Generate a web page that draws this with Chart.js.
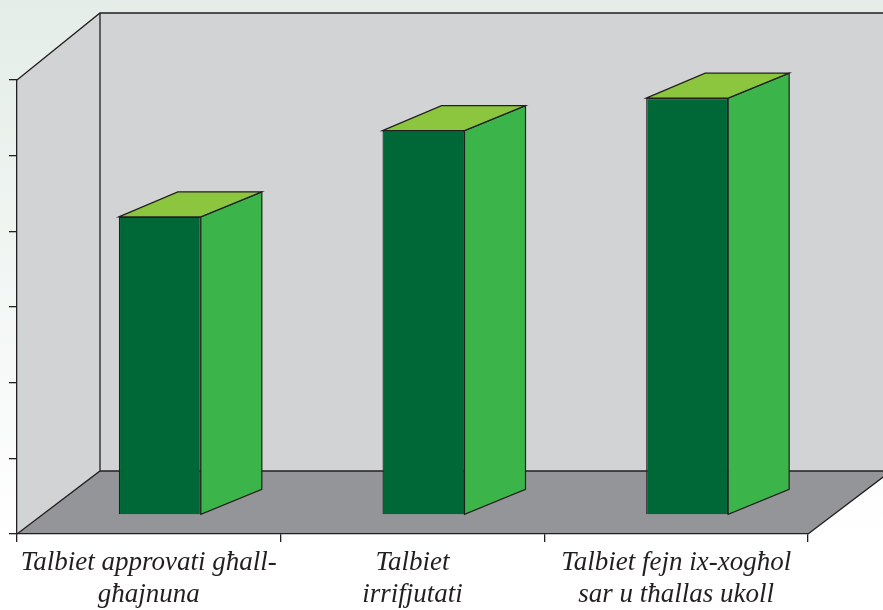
<!DOCTYPE html>
<html>
<head>
<meta charset="utf-8">
<script src="https://cdn.jsdelivr.net/npm/chart.js@4/dist/chart.umd.min.js"></script>
<style>
  html, body { margin: 0; padding: 0; background: #fff; }
  #wrap { width: 883px; height: 610px; }
</style>
</head>
<body>
<div id="wrap"><canvas id="applicationsChart" width="883" height="610"></canvas></div>
<script>
// data
const categories = [
  ['Talbiet approvati għall-', 'għajnuna'],
  ['Talbiet', 'irrifjutati'],
  ['Talbiet fejn ix-xogħol', 'sar u tħallas ukoll']
];
const applications = [394, 508, 551];
const yTicks = { min: 0, max: 600, step: 100 };

const LINE = '#231f20';
// depth of the box (back wall relative to front plane)
const wallDepth = { dx: 83, dyTop: -67, dyBottom: -63 };
// bars sit in the middle of the floor
const barShift = { dx: 11, dy: -19 };
const barDepth = { dx: 61, dy: -25 };

const box3d = {
  id: 'box3d',
  beforeDraw(chart) {
    const { ctx, chartArea: a, width, height } = chart;
    ctx.save();
    const bg = ctx.createLinearGradient(0, 0, 0, height);
    bg.addColorStop(0, '#e4ede8');
    bg.addColorStop(0.9, '#ffffff');
    ctx.fillStyle = bg;
    ctx.fillRect(0, 0, width, height);

    const fl = a.left, fr = a.right, ft = a.top, fb = a.bottom;
    const bl = fl + wallDepth.dx, br = fr + wallDepth.dx;
    const bt = ft + wallDepth.dyTop, bb = fb + wallDepth.dyBottom;

    const poly = (pts, fill) => {
      ctx.beginPath();
      pts.forEach((p, i) => i ? ctx.lineTo(p[0], p[1]) : ctx.moveTo(p[0], p[1]));
      ctx.closePath();
      ctx.fillStyle = fill;
      ctx.fill();
    };
    // back wall, side wall, floor
    poly([[bl, bt], [br, bt], [br, bb], [bl, bb]], '#d2d3d5');
    poly([[fl, ft], [bl, bt], [bl, bb], [fl, fb]], '#d2d3d5');
    poly([[fl, fb], [fr, fb], [br, bb], [bl, bb]], '#939598');

    ctx.strokeStyle = LINE;
    ctx.lineWidth = 1.3;
    ctx.beginPath();
    ctx.moveTo(fl, ft); ctx.lineTo(bl, bt); ctx.lineTo(br, bt);
    ctx.moveTo(bl, bt); ctx.lineTo(bl, bb);
    ctx.moveTo(fl, fb); ctx.lineTo(bl, bb); ctx.lineTo(br, bb);
    ctx.moveTo(fr, fb); ctx.lineTo(br, bb);
    ctx.stroke();
    ctx.restore();
  },
  beforeDatasetsDraw(chart) {
    chart.ctx.save();
    chart.ctx.translate(barShift.dx, barShift.dy);
  },
  afterDatasetsDraw(chart) {
    const ctx = chart.ctx;
    const meta = chart.getDatasetMeta(0);
    meta.data.forEach(bar => {
      const { x, y, base, width } = bar.getProps(['x', 'y', 'base', 'width'], true);
      const l = x - width / 2, r = x + width / 2;
      const dx = barDepth.dx, dy = barDepth.dy;
      ctx.lineWidth = 1.2;
      ctx.strokeStyle = LINE;
      // side face
      ctx.beginPath();
      ctx.moveTo(r, y); ctx.lineTo(r + dx, y + dy);
      ctx.lineTo(r + dx, base + dy); ctx.lineTo(r, base);
      ctx.closePath();
      ctx.fillStyle = '#3bb54a';
      ctx.fill(); ctx.stroke();
      // top face
      ctx.beginPath();
      ctx.moveTo(l, y); ctx.lineTo(l + dx - 2, y + dy);
      ctx.lineTo(r + dx, y + dy); ctx.lineTo(r, y);
      ctx.closePath();
      ctx.fillStyle = '#8cc63f';
      ctx.fill(); ctx.stroke();
    });
    ctx.restore();
  }
};

const ctx = document.getElementById('applicationsChart').getContext('2d');
const applicationsChart = new Chart(ctx, {
  type: 'bar',
  data: {
    labels: categories,
    datasets: [{
      data: applications,
      backgroundColor: '#006837',
      borderColor: LINE,
      borderWidth: 1.2,
      categoryPercentage: 1,
      barPercentage: 0.311,
      clip: false
    }]
  },
  options: {
    responsive: false,
    animation: false,
    layout: { padding: { top: 80, right: 75, left: 0, bottom: 0 } },
    plugins: { legend: { display: false }, tooltip: { enabled: false } },
    scales: {
      x: {
        afterFit: s => { s.height = 76; },
        grid: { offset: true, drawOnChartArea: false, tickLength: 8, color: LINE, lineWidth: 1.3 },
        border: { color: LINE, width: 1.3 },
        ticks: {
          color: '#231f20',
          padding: 5,
          maxRotation: 0,
          autoSkip: false,
          font: { family: '"Liberation Serif", serif', style: 'italic', size: 27, lineHeight: '32px' }
        }
      },
      y: {
        min: yTicks.min,
        max: yTicks.max,
        afterFit: s => { s.width = 17; },
        grid: { drawOnChartArea: false, tickLength: 8, color: LINE, lineWidth: 1.3 },
        border: { color: LINE, width: 1.3 },
        ticks: { display: false, stepSize: yTicks.step }
      }
    }
  },
  plugins: [box3d]
});
</script>
</body>
</html>
